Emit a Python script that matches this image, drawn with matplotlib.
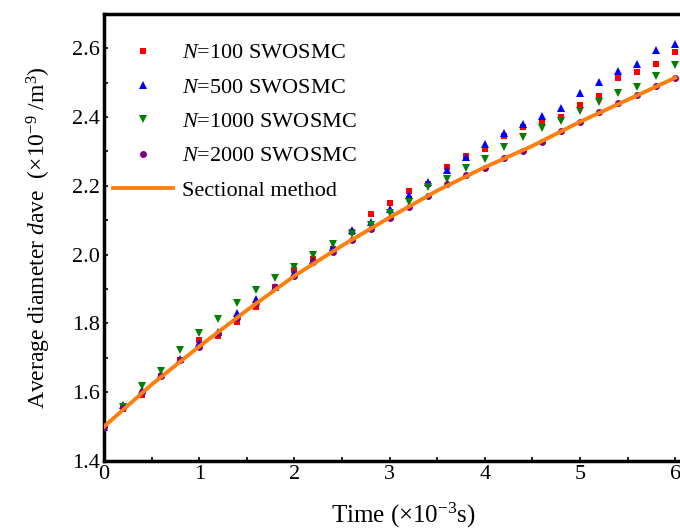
import numpy as np
import matplotlib
matplotlib.use("Agg")
import matplotlib.pyplot as plt
from matplotlib.ticker import MultipleLocator

plt.rcParams['font.family'] = ['Liberation Serif', 'DejaVu Serif']
plt.rcParams['mathtext.fontset'] = 'custom'
plt.rcParams['mathtext.rm'] = 'Liberation Serif'
plt.rcParams['mathtext.it'] = 'Liberation Serif:italic'

# time (x10^-3 s)
t = [0.0, 0.2, 0.4, 0.6, 0.8, 1.0, 1.2, 1.4, 1.6, 1.8, 2.0, 2.2, 2.4, 2.6, 2.8, 3.0,
     3.2, 3.4, 3.6, 3.8, 4.0, 4.2, 4.4, 4.6, 4.8, 5.0, 5.2, 5.4, 5.6, 5.8, 6.0]

d_n100 = [1.500, 1.551, 1.592, 1.648, 1.694, 1.752, 1.763, 1.805, 1.849, 1.905, 1.955,
          1.986, 2.015, 2.067, 2.118, 2.150, 2.186, 2.205, 2.254, 2.287, 2.307, 2.346,
          2.372, 2.388, 2.399, 2.436, 2.462, 2.514, 2.530, 2.555, 2.590]
d_n500 = [1.500, 1.563, 1.605, 1.652, 1.696, 1.742, 1.776, 1.830, 1.870, 1.906, 1.947,
          1.984, 2.023, 2.072, 2.094, 2.133, 2.172, 2.212, 2.246, 2.283, 2.322, 2.354,
          2.379, 2.403, 2.425, 2.469, 2.503, 2.535, 2.555, 2.595, 2.612]
d_n1000 = [1.500, 1.556, 1.617, 1.663, 1.723, 1.773, 1.813, 1.859, 1.897, 1.933, 1.965,
           1.999, 2.031, 2.059, 2.086, 2.122, 2.152, 2.197, 2.221, 2.251, 2.279, 2.312,
           2.341, 2.369, 2.388, 2.417, 2.444, 2.471, 2.488, 2.519, 2.552]
d_n2000 = [1.500, 1.553, 1.601, 1.647, 1.694, 1.732, 1.771, 1.816, 1.858, 1.905, 1.938,
           1.977, 2.008, 2.042, 2.074, 2.106, 2.137, 2.171, 2.204, 2.231, 2.251, 2.280,
           2.301, 2.326, 2.358, 2.385, 2.414, 2.440, 2.465, 2.491, 2.514]

# sectional method
t_sec = [0.0, 0.5, 1.0, 1.5, 2.0, 2.5, 3.0, 3.5, 4.0, 4.5, 5.0, 5.5, 6.0]
d_sec = [1.500, 1.622, 1.733, 1.838, 1.938, 2.026, 2.108, 2.186, 2.254, 2.316, 2.386, 2.450, 2.514]

fig = plt.figure(figsize=(6.8, 5.32), dpi=100)
ax = fig.add_axes([0.153, 0.1335, 0.882, 0.8406])

ms = 5
ax.plot(t, d_n100, 's', color='#ff0000', ms=ms, mew=0, label='$N$=100 SWOSMC', zorder=3)
ax.plot(t, d_n500, '^', color='#0000ff', ms=ms + 1, mew=0, label='$N$=500 SWOSMC', zorder=3)
ax.plot(t, d_n1000, 'v', color='#008000', ms=ms + 1, mew=0, label='$N$=1000 SWOSMC', zorder=3)
ax.plot(t, d_n2000, 'o', color='#800080', ms=ms, mew=0, label='$N$=2000 SWOSMC', zorder=3)
ax.plot(t_sec, d_sec, '-', color='#ff7f0e', lw=2.8, label='Sectional method', zorder=4)

ax.set_xlim(0, 6.3)
ax.set_ylim(1.4, 2.7)
ax.xaxis.set_major_locator(MultipleLocator(1))
ax.xaxis.set_minor_locator(MultipleLocator(0.5))
ax.yaxis.set_minor_locator(MultipleLocator(0.1))
ax.set_yticks([1.4, 1.6, 1.8, 2.0, 2.2, 2.4, 2.6])
ax.set_yticklabels(['1.4', '1.6', '1.8', '2.0', '2.2', '2.4', '2.6'])
ax.tick_params(which='both', direction='in', length=3, width=1.2, labelsize=16)
ax.tick_params(axis='y', pad=3)
ax.tick_params(axis='x', pad=3)
for s in ax.spines.values():
    s.set_linewidth(2.5)

ax.set_xlabel('Time (×10$^{-3}$s)', fontsize=18, labelpad=12)
ax.set_ylabel('Average diameter $d$ave  (×10$^{-9}$ /m$^3$)', fontsize=17, labelpad=14)

leg = ax.legend(loc='upper left', bbox_to_anchor=(0.0, 0.955), frameon=False, fontsize=16,
                handlelength=2.7, handletextpad=0.4, labelspacing=0.62, borderaxespad=0.0)

fig.savefig('out.png', dpi=100)
